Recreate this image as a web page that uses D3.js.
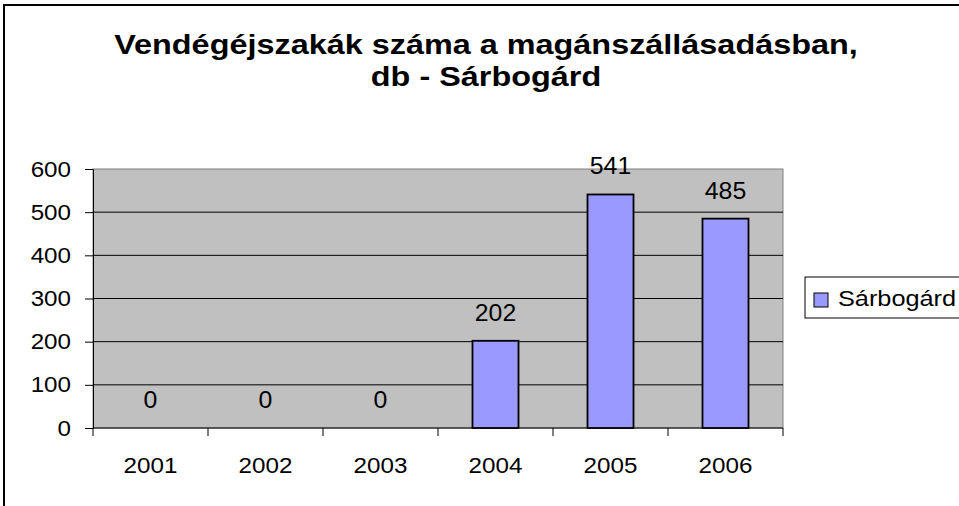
<!DOCTYPE html>
<html>
<head>
<meta charset="utf-8">
<script src="https://cdn.jsdelivr.net/npm/d3@7"></script>
<style>
  html, body { margin: 0; padding: 0; background: #fff; }
  svg { display: block; font-family: "Liberation Sans", Arial, sans-serif; }
</style>
</head>
<body>
<svg id="chart" width="959" height="506"></svg>
<script>
const years = ['2001', '2002', '2003', '2004', '2005', '2006']
const values = [0, 0, 0, 202, 541, 485]
const yTicks = [0, 100, 200, 300, 400, 500, 600]
const seriesName = 'Sárbogárd'
const titleLines = ['Vendégéjszakák száma a magánszállásadásban,', 'db - Sárbogárd']

const svg = d3.select('#chart')
const plot = { left: 93, top: 169, right: 783, bottom: 428 }
// the original picture is a bit wider than it is tall, so text is stretched
const wide = 1.1

// outer chart frame (runs off the right and bottom edge)
svg.append('rect')
   .attr('x', 4).attr('y', 5)
   .attr('width', 1000).attr('height', 600)
   .attr('fill', '#fff')
   .attr('stroke', '#000')
   .attr('stroke-width', 2)

svg.append('g')
   .selectAll('text')
   .data(titleLines)
   .join('text')
   .attr('transform', (d, i) => `translate(486,${54 + i * 32}) scale(1.2,1)`)
   .attr('text-anchor', 'middle')
   .attr('font-size', 27)
   .attr('font-weight', 'bold')
   .text(d => d)

const x = d3.scaleBand()
            .domain(years)
            .range([plot.left, plot.right])
            .paddingInner(0.6)
            .paddingOuter(0.3)
const xCat = d3.scaleBand().domain(years).range([plot.left, plot.right])
const y = d3.scaleLinear().domain([0, 600]).range([plot.bottom, plot.top])

svg.append('rect')
   .attr('x', plot.left).attr('y', plot.top)
   .attr('width', plot.right - plot.left).attr('height', plot.bottom - plot.top)
   .attr('fill', '#c0c0c0')
   .attr('stroke', '#808080')

// gridlines
svg.append('g')
   .selectAll('line')
   .data(yTicks.filter(d => d > 0 && d < 600))
   .join('line')
   .attr('x1', plot.left).attr('x2', plot.right)
   .attr('y1', d => y(d)).attr('y2', d => y(d))
   .attr('stroke', '#000')

// y axis
const yAxis = svg.append('g')
                 .attr('transform', `translate(${plot.left},0)`)
                 .call(d3.axisLeft(y).tickValues(yTicks).tickSize(8).tickPadding(14))
yAxis.select('.domain').attr('stroke', '#000')
yAxis.selectAll('.tick line').attr('stroke', '#000')
yAxis.selectAll('text')
     .attr('font-size', 22)
     .attr('font-family', 'Liberation Sans, Arial, sans-serif')
     .attr('fill', '#000')
     .attr('x', -22 / wide)
     .attr('transform', `scale(${wide},1)`)

// x axis, ticks between categories
const xAxis = svg.append('g')
                 .attr('transform', `translate(0,${plot.bottom})`)
xAxis.append('line')
     .attr('x1', plot.left).attr('x2', plot.right)
     .attr('stroke', '#000')
xAxis.selectAll('line.tick')
     .data(years.concat(['end']))
     .join('line')
     .attr('class', 'tick')
     .attr('x1', (d, i) => plot.left + i * xCat.step())
     .attr('x2', (d, i) => plot.left + i * xCat.step())
     .attr('y1', 0).attr('y2', 8)
     .attr('stroke', '#000')
xAxis.selectAll('text')
     .data(years)
     .join('text')
     .attr('transform', d => `translate(${xCat(d) + xCat.bandwidth() / 2},45) scale(${wide},1)`)
     .attr('text-anchor', 'middle')
     .attr('font-size', 22)
     .text(d => d)

// bars
const rows = values.map((v, i) => ({ year: years[i], v }))
svg.append('g')
   .selectAll('rect')
   .data(rows)
   .join('rect')
   .attr('x', d => x(d.year))
   .attr('y', d => y(d.v))
   .attr('width', x.bandwidth())
   .attr('height', d => y(0) - y(d.v))
   .attr('fill', '#9999ff')
   .attr('stroke', '#000')
   .attr('stroke-width', d => d.v > 0 ? 1.8 : 0)

// value labels
svg.append('g')
   .selectAll('text')
   .data(rows)
   .join('text')
   .attr('transform', d => `translate(${x(d.year) + x.bandwidth() / 2},${y(d.v) - 20}) scale(1.08,1)`)
   .attr('text-anchor', 'middle')
   .attr('font-size', 23)
   .text(d => d.v)

// legend
const legend = svg.append('g')
legend.append('rect')
      .attr('x', 805).attr('y', 277)
      .attr('width', 200).attr('height', 41)
      .attr('fill', '#fff')
      .attr('stroke', '#000')
legend.append('rect')
      .attr('x', 814).attr('y', 293)
      .attr('width', 14).attr('height', 14)
      .attr('fill', '#9999ff')
      .attr('stroke', '#000')
legend.append('text')
      .attr('transform', 'translate(838,306) scale(1.15,1)')
      .attr('font-size', 22)
      .text(seriesName)
</script>
</body>
</html>
